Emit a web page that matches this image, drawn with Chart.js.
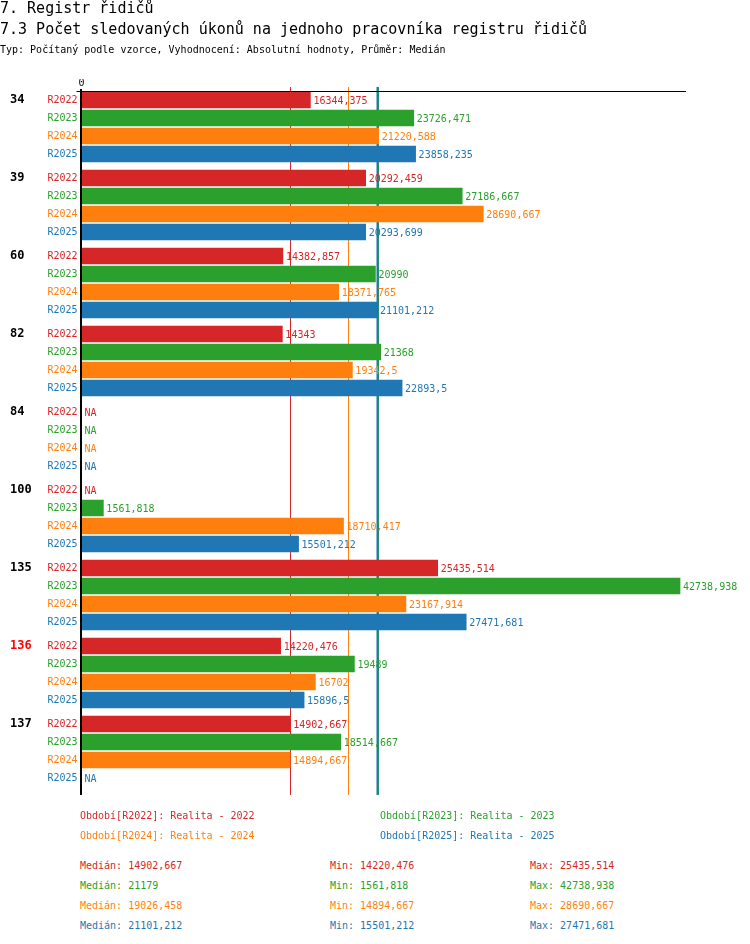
<!DOCTYPE html>
<html><head><meta charset="utf-8">
<script src="https://cdn.jsdelivr.net/npm/chart.js@4.4.1/dist/chart.umd.min.js"></script>
<style>
html,body{margin:0;padding:0;background:#fff;}
body{width:750px;height:944px;position:relative;overflow:hidden;font-family:"DejaVu Sans Mono",monospace;color:#000;}
.t{position:absolute;left:0;white-space:nowrap;}
#wrap{position:absolute;left:0;top:0;width:750px;height:820px;}
.l{position:absolute;font-size:10px;line-height:10px;white-space:nowrap;}
</style></head><body>
<div id="wrap"><canvas id="c"></canvas></div>
<div class="t" style="top:1px;font-size:15px;line-height:15px">7. Registr řidičů</div>
<div class="t" style="top:22px;font-size:15px;line-height:15px">7.3 Počet sledovaných úkonů na jednoho pracovníka registru řidičů</div>
<div class="t" style="top:45px;font-size:10px;line-height:10px">Typ: Počítaný podle vzorce, Vyhodnocení: Absolutní hodnoty, Průměr: Medián</div>
<div id="legend"></div>
<script>
// ---- data ----
const groups = ['34', '39', '60', '82', '84', '100', '135', '136', '137'];
const groupColors = ['#000', '#000', '#000', '#000', '#000', '#000', '#000', '#ff0000', '#000'];
const seriesNames = ['R2022', 'R2023', 'R2024', 'R2025'];
const seriesTitles = ['Realita - 2022', 'Realita - 2023', 'Realita - 2024', 'Realita - 2025'];
const colors = ['#d62728', '#2ca02c', '#ff7f0e', '#1f77b4'];
const r2022 = [16344.375, 20292.459, 14382.857, 14343, null, null, 25435.514, 14220.476, 14902.667];
const r2023 = [23726.471, 27186.667, 20990, 21368, null, 1561.818, 42738.938, 19489, 18514.667];
const r2024 = [21220.588, 28690.667, 18371.765, 19342.5, null, 18710.417, 23167.914, 16702, 14894.667];
const r2025 = [23858.235, 20293.699, 21101.212, 22893.5, null, 15501.212, 27471.681, 15896.5, null];
const medians = [14902.667, 21179, 19026.458, 21101.212];
const mins = [14220.476, 1561.818, 14894.667, 15501.212];
const maxs = [25435.514, 42738.938, 28690.667, 27471.681];
const xTicks = [0];

// ---- layout helpers ----
const series = [r2022, r2023, r2024, r2025];
const GROUP_STEP = 13 / 3;
const rowPos = [], rowLab = [], rowCol = [];
groups.forEach((g, gi) => seriesNames.forEach((n, s) => { rowPos.push(gi * GROUP_STEP + s); rowLab.push(n); rowCol.push(colors[s]); }));
const groupPos = groups.map((g, gi) => gi * GROUP_STEP);
const fmt = v => String(v).replace('.', ',');
const allVals = series.flat().filter(v => v != null);
const xMax = Math.max(...allVals) * 1.01;
const FONT = "'DejaVu Sans Mono', monospace";
Chart.defaults.font.family = FONT;
const Y_MIN = -0.5, Y_MAX = 38.611;

const overlay = {
  id: 'overlay',
  beforeDatasetsDraw(chart) {
    const { ctx, chartArea, scales: { x } } = chart;
    ctx.save();
    medians.forEach((m, i) => {
      const px = Math.round(x.getPixelForValue(m)) + 0.5;
      ctx.strokeStyle = colors[i];
      ctx.lineWidth = i === 3 ? 2 : 1;
      ctx.beginPath();
      ctx.moveTo(px, chartArea.top - 4);
      ctx.lineTo(px, chartArea.bottom);
      ctx.stroke();
    });
    ctx.restore();
  },
  afterDatasetsDraw(chart) {
    const { ctx, chartArea, scales: { x, y } } = chart;
    const x0 = x.getPixelForValue(0);
    ctx.save();
    ctx.fillStyle = '#000';
    ctx.fillRect(x0 - 5, chartArea.top, chartArea.right - x0 + 5, 1);
    ctx.fillRect(Math.round(x0) - 2, chartArea.top - 2, 2, chartArea.bottom - chartArea.top + 2);
    ctx.font = '10px ' + FONT;
    ctx.textBaseline = 'middle';
    ctx.textAlign = 'left';
    chart.data.datasets.forEach((ds, di) => {
      const meta = chart.getDatasetMeta(di);
      ctx.fillStyle = colors[di];
      ds.data.forEach((pt, j) => {
        const py = y.getPixelForValue(pt.y) + 1;
        if (pt.x == null) {
          ctx.fillText('NA', x0 + 3, py);
        } else {
          ctx.fillText(fmt(pt.x), meta.data[j].x + 3, py);
        }
      });
    });
    ctx.restore();
  }
};

new Chart(document.getElementById('c'), {
  type: 'bar',
  data: {
    datasets: series.map((vals, s) => ({
      label: seriesNames[s],
      data: vals.map((v, gi) => ({ x: v, y: gi * GROUP_STEP + s })),
      backgroundColor: colors[s],
      borderWidth: 0,
      barThickness: 16,
      maxBarThickness: 16,
      grouped: false,
      yAxisID: 'y'
    }))
  },
  options: {
    indexAxis: 'y',
    responsive: true,
    maintainAspectRatio: false,
    animation: false,
    layout: { padding: { left: 10, right: 64, top: 79, bottom: 25 } },
    plugins: { legend: { display: false }, tooltip: { enabled: false } },
    scales: {
      x: {
        type: 'linear', position: 'top', min: 0, max: xMax, stacked: false, offset: false,
        afterBuildTicks: s => { s.ticks = xTicks.map(v => ({ value: v })); },
        afterFit: s => { s.height = 12; },
        ticks: { color: '#000', font: { size: 10 }, padding: 2, maxRotation: 0 },
        grid: { display: false, drawTicks: false },
        border: { display: false }
      },
      y: {
        type: 'linear', position: 'left', reverse: true, min: Y_MIN, max: Y_MAX, weight: 0, offset: false,
        afterBuildTicks: s => { s.ticks = rowPos.map(v => ({ value: v })); },
        afterFit: s => { s.width = 41.5; },
        ticks: {
          autoSkip: false, padding: 4, font: { size: 10 },
          color: c => rowCol[c.index],
          callback: (v, i) => rowLab[i]
        },
        grid: { display: false, drawTicks: false },
        border: { display: false }
      },
      yg: {
        type: 'linear', position: 'left', reverse: true, min: Y_MIN, max: Y_MAX, weight: 1, offset: false,
        afterBuildTicks: s => { s.ticks = groupPos.map(v => ({ value: v })); },
        afterFit: s => { s.width = 30; },
        ticks: {
          autoSkip: false, padding: 0, crossAlign: 'far', font: { size: 12, weight: 'bold' },
          color: c => groupColors[c.index],
          callback: (v, i) => groups[i]
        },
        grid: { display: false, drawTicks: false },
        border: { display: false }
      }
    }
  },
  plugins: [overlay]
});

// ---- legend & stats ----
const leg = document.getElementById('legend');
const add = (txt, x, y, col) => {
  const d = document.createElement('div');
  d.className = 'l'; d.textContent = txt;
  d.style.left = x + 'px'; d.style.top = y + 'px'; d.style.color = col;
  leg.appendChild(d);
};
seriesNames.forEach((n, s) => {
  add('Období[' + n + ']: ' + seriesTitles[s], s % 2 ? 380 : 80, 811 + Math.floor(s / 2) * 20, colors[s]);
  add('Medián: ' + fmt(medians[s]), 80, 861 + s * 20, colors[s]);
  add('Min: ' + fmt(mins[s]), 330, 861 + s * 20, colors[s]);
  add('Max: ' + fmt(maxs[s]), 530, 861 + s * 20, colors[s]);
});
</script>
</body></html>
